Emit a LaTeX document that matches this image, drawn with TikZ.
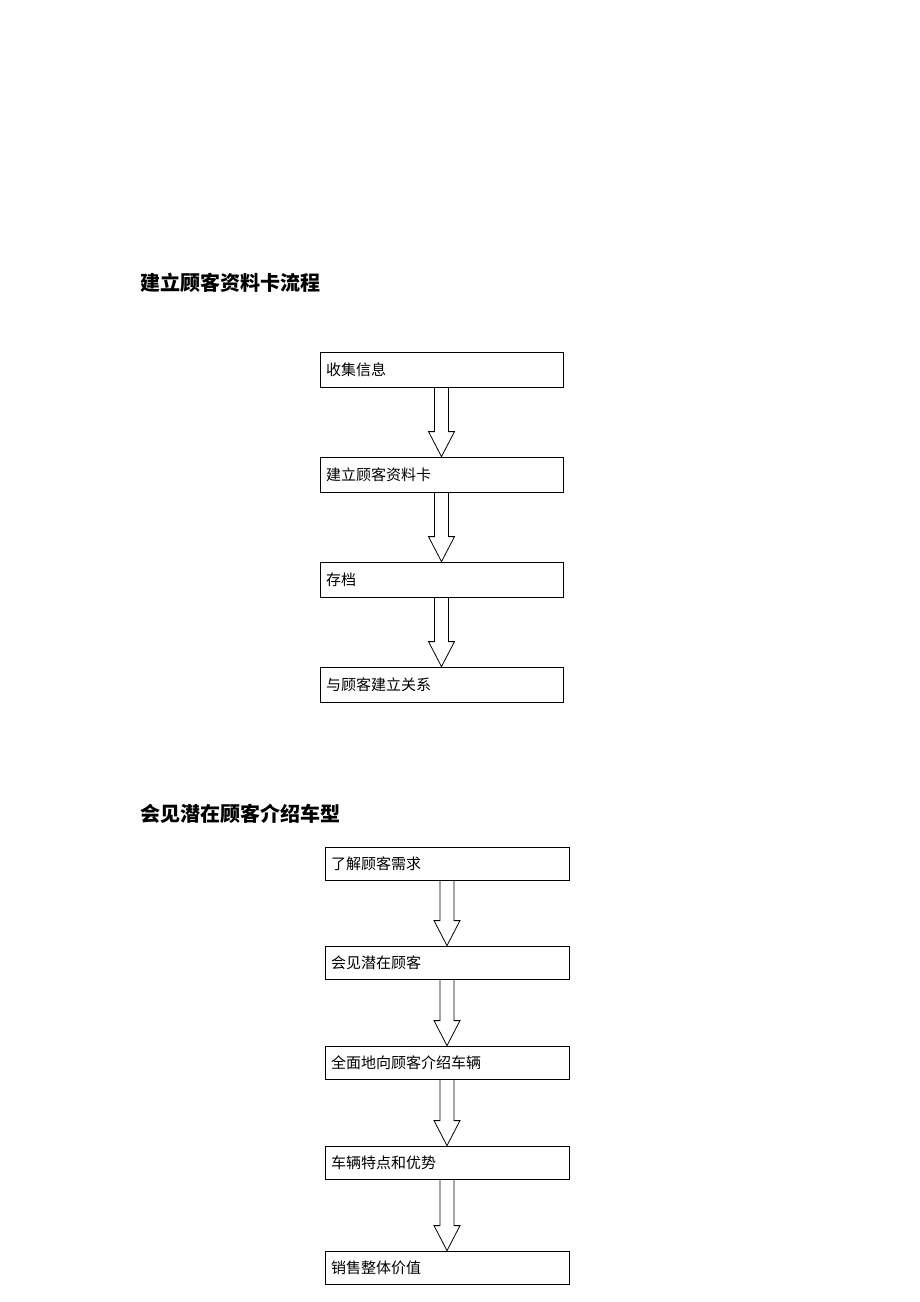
\documentclass[tikz,border=0pt]{standalone}
\usepackage{fontspec}
\newfontfamily\cjk{Noto Sans CJK SC}
\usetikzlibrary{positioning,calc}
\tikzset{
  stepbox/.style={draw, thick, minimum height=35pt, text width=230pt, align=left,
    inner sep=6pt, font=\cjk\fontsize{15}{18}\selectfont},
  title/.style={anchor=west, inner sep=0pt, font=\cjk\bfseries\fontsize{20}{24}\selectfont},
}
% hollow block arrow from the lower node to the upper node
\newcommand{\blockarrow}[2]{%
  \draw[thick] let \p1=(#1.south), \p2=(#2.north) in
    (\x1-7pt,\y1) -- (\x1-7pt,\y2+25pt) -- (\x1-13pt,\y2+25pt) -- (\x1,\y2)
    -- (\x1+13pt,\y2+25pt) -- (\x1+7pt,\y2+25pt) -- (\x1+7pt,\y1);}
\begin{document}
\begin{tikzpicture}[x=1pt,y=-1pt]
\useasboundingbox (0,0) rectangle (920,1302);

\node[title] (t1) at (140,283) {建立顾客资料卡流程};
\node[stepbox, minimum width=243pt, text width=231pt] (s1) at (441.5,369.5) {收集信息};
\node[stepbox, minimum width=243pt, text width=231pt] (s2) at (441.5,474.5) {建立顾客资料卡};
\node[stepbox, minimum width=243pt, text width=231pt] (s3) at (441.5,579.5) {存档};
\node[stepbox, minimum width=243pt, text width=231pt] (s4) at (441.5,684.5) {与顾客建立关系};
\blockarrow{s1}{s2}
\blockarrow{s2}{s3}
\blockarrow{s3}{s4}

\node[title] (t2) at (140,814) {会见潜在顾客介绍车型};
\node[stepbox, minimum height=33pt, text width=232pt] (m1) at (447,863.5) {了解顾客需求};
\node[stepbox, minimum height=33pt, text width=232pt] (m2) at (447,962.5) {会见潜在顾客};
\node[stepbox, minimum height=33pt, text width=232pt] (m3) at (447,1062.5) {全面地向顾客介绍车辆};
\node[stepbox, minimum height=33pt, text width=232pt] (m4) at (447,1162.5) {车辆特点和优势};
\node[stepbox, minimum height=33pt, text width=232pt] (m5) at (447,1267.5) {销售整体价值};
\blockarrow{m1}{m2}
\blockarrow{m2}{m3}
\blockarrow{m3}{m4}
\blockarrow{m4}{m5}
\end{tikzpicture}
\end{document}
